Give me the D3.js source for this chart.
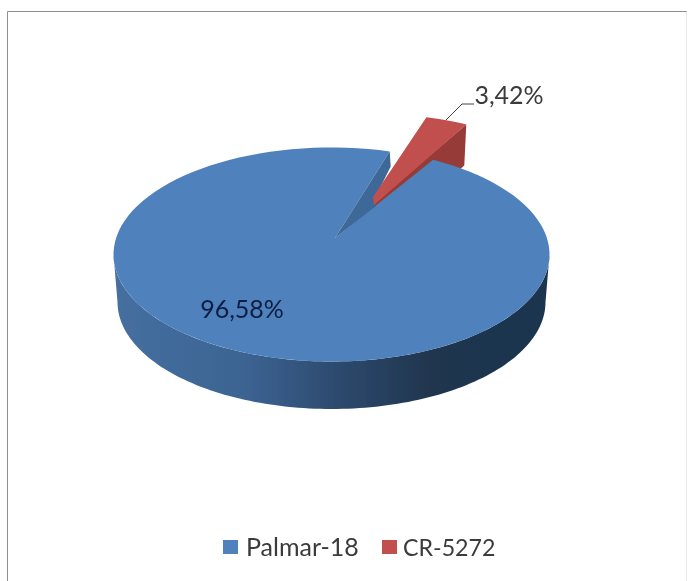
<!DOCTYPE html>
<html><head><meta charset="utf-8">
<script src="https://cdn.jsdelivr.net/npm/d3@7"></script>
<style>html,body{margin:0;padding:0;background:#fff}svg{display:block}text{font-family:Lato,"Open Sans",sans-serif}</style>
</head><body><svg id="c" width="688" height="581"></svg>
<script>
const categories = ["Palmar-18", "CR-5272"];
const seriesValues = [96.58, 3.42];
const valueLabels = ["96,58%", "3,42%"];
const colors = ["#4f81bd", "#c0504d"];

const svg = d3.select("#c");
const W = 688, H = 581;
svg.append("path").attr("d","M7.5,581V11.5H686.5V581").attr("fill","none").attr("stroke","#8f8f8f");
svg.append("path").attr("d","M686.5,12V581").attr("fill","none").attr("stroke","#fff").attr("stroke-width",1).attr("opacity",0.8);

const defs = svg.append("defs");
const grad = defs.append("linearGradient").attr("id","side").attr("gradientUnits","userSpaceOnUse")
  .attr("x1",114).attr("x2",549).attr("y1",0).attr("y2",0);
[[0,"#456f9f"],[0.3,"#3c6493"],[0.5,"#2e4b70"],[0.72,"#20364f"],[1,"#1e3450"]].forEach(([o,c])=>grad.append("stop").attr("offset",o).attr("stop-color",c));
defs.append("filter").attr("id","soft").append("feGaussianBlur").attr("stdDeviation",0.5);
defs.append("filter").attr("id","softText").append("feGaussianBlur").attr("stdDeviation",0.35);

const pie = d3.pie().value(d=>d).sort(null).startAngle(27.8*Math.PI/180).endAngle((27.8+360)*Math.PI/180);
const [big, small] = pie(seriesValues);

const cx=331.5, cy=254.5, rx=218, ry=107;
const project = (a,c=[cx,cy],r=[rx,ry]) => [c[0]+r[0]*Math.sin(a), c[1]-r[1]*Math.cos(a)];
const rimPoints = (a0,a1,c,r) => d3.range(0,121).map(i=>project(a0+(a1-a0)*i/120,c,r));
const line = d3.line();

const g = svg.append("g").attr("filter","url(#soft)");

const sideTop = rimPoints(Math.PI*1.5, Math.PI*0.5, [cx,cy],[rx,ry]);
const sideBot = rimPoints(Math.PI*0.5, Math.PI*1.5, [cx,cy+47.5],[rx-4,ry]);
g.append("path").attr("d",line(sideTop.concat(sideBot))+"Z").attr("fill","url(#side)");

const apexR=[373,204], rR=[200,90];
const s1=project(small.endAngle,apexR,rR);
g.append("path").attr("d",line([apexR,s1,[s1[0]-2,s1[1]+41],[apexR[0],apexR[1]+42]])+"Z").attr("fill","#973a37");

const apexB=[335,238];
g.append("path").attr("d",line(rimPoints(big.startAngle,big.endAngle,[cx,cy],[rx,ry]).concat([apexB]))+"Z").attr("fill",colors[0]);
const b1=project(big.endAngle,[cx,cy],[rx,ry]);
g.append("path").attr("d",line([apexB,b1,[b1[0]+1,b1[1]+15],[apexR[0]+1,apexR[1]-4],[apexR[0]+3,apexR[1]+2],[apexR[0]-2,apexR[1]+6]])+"Z").attr("fill","#3e6797");

g.append("path").attr("d",line(rimPoints(small.startAngle,small.endAngle,apexR,rR).concat([[apexR[0]+1,apexR[1]+1],[apexR[0],apexR[1]-7]]))+"Z").attr("fill",colors[1]);

svg.append("path").attr("d",line([[446,120],[462,104],[474,104]])).attr("fill","none").attr("stroke","#444").attr("stroke-width",1);

const labels = svg.append("g").attr("filter","url(#softText)");
labels.append("text").attr("x",242).attr("y",318).attr("text-anchor","middle").attr("font-size",25).attr("fill","#0f1f40").text(valueLabels[0]);
labels.append("text").attr("x",509).attr("y",104).attr("text-anchor","middle").attr("font-size",25).attr("fill","#3a3a3a").text(valueLabels[1]);

const legX = d3.scaleOrdinal().domain(categories).range([223,382]);
const legText = d3.scaleOrdinal().domain(categories).range([23,21]);
const legFont = d3.scaleOrdinal().domain(categories).range([25,23.2]);
const leg = labels.append("g").selectAll("g").data(categories).join("g").attr("transform",d=>`translate(${legX(d)},0)`);
leg.append("rect").attr("y",540).attr("width",15).attr("height",14).attr("fill",(d,i)=>colors[i]);
leg.append("text").attr("x",d=>legText(d)).attr("y",556).attr("font-size",d=>legFont(d)).attr("fill","#3a3a3a").text(d=>d);
</script></body></html>
